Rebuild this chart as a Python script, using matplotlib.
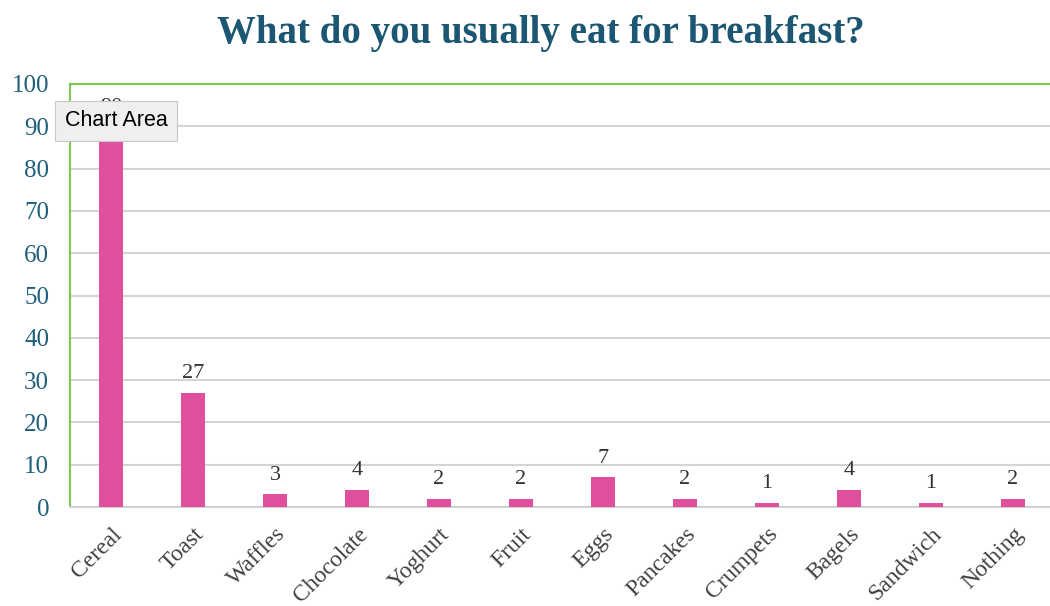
import matplotlib
matplotlib.use('Agg')
import matplotlib.pyplot as plt

foods = ['Cereal', 'Toast', 'Waffles', 'Chocolate', 'Yoghurt', 'Fruit', 'Eggs',
         'Pancakes', 'Crumpets', 'Bagels', 'Sandwich', 'Nothing']
counts = [90, 27, 3, 4, 2, 2, 7, 2, 1, 4, 1, 2]
yticks = list(range(0, 101, 10))

serif = ['Liberation Serif', 'DejaVu Serif']

fig = plt.figure(figsize=(10.5, 6.06), dpi=100)
ax = fig.add_axes([70 / 1050, 1 - 507 / 606, 984 / 1050, 423 / 606])

x = range(len(foods))
ax.bar(x, counts, width=0.3, color='#e04f9c', zorder=3)
for xi, v in zip(x, counts):
    ax.text(xi, v + 2.3, str(v), ha='center', va='bottom', fontsize=16,
            family=serif, color='#333333', zorder=4)

ax.set_xlim(-0.5, len(foods) - 0.5)
ax.set_ylim(0, 100)
ax.set_yticks(yticks)
ax.set_yticklabels([str(t) for t in yticks], family=serif, fontsize=18,
                   color='#1f5f7a')
ax.set_xticks(list(x))
ax.set_xticklabels(foods, rotation=45, ha='right', rotation_mode='anchor',
                   family=serif, fontsize=17, color='#404040')
ax.tick_params(axis='y', length=0, pad=15)
ax.tick_params(axis='x', length=0, pad=12)

ax.grid(axis='y', color='#d4d4d4', linewidth=1.5, zorder=0)
for s in ['left', 'top', 'right']:
    ax.spines[s].set_color('#7dc855')
    ax.spines[s].set_linewidth(1.5)
ax.spines['bottom'].set_color('#d0d0d0')
ax.spines['bottom'].set_linewidth(1.5)

fig.text(0.515, 0.945, 'What do you usually eat for breakfast?', ha='center',
         va='center', family=serif, fontsize=28, fontweight='bold',
         color='#1b5673')

# tooltip overlay
fig.text(116 / 1050, 1 - 121 / 606, 'Chart Area', ha='center', va='center',
         fontsize=15.5, family=['Liberation Sans', 'DejaVu Sans'], color='black',
         zorder=10,
         bbox=dict(boxstyle='square,pad=0.45', facecolor='#efefef',
                   edgecolor='#c8c8c8', linewidth=0.8))

fig.savefig('out.png', dpi=100)
